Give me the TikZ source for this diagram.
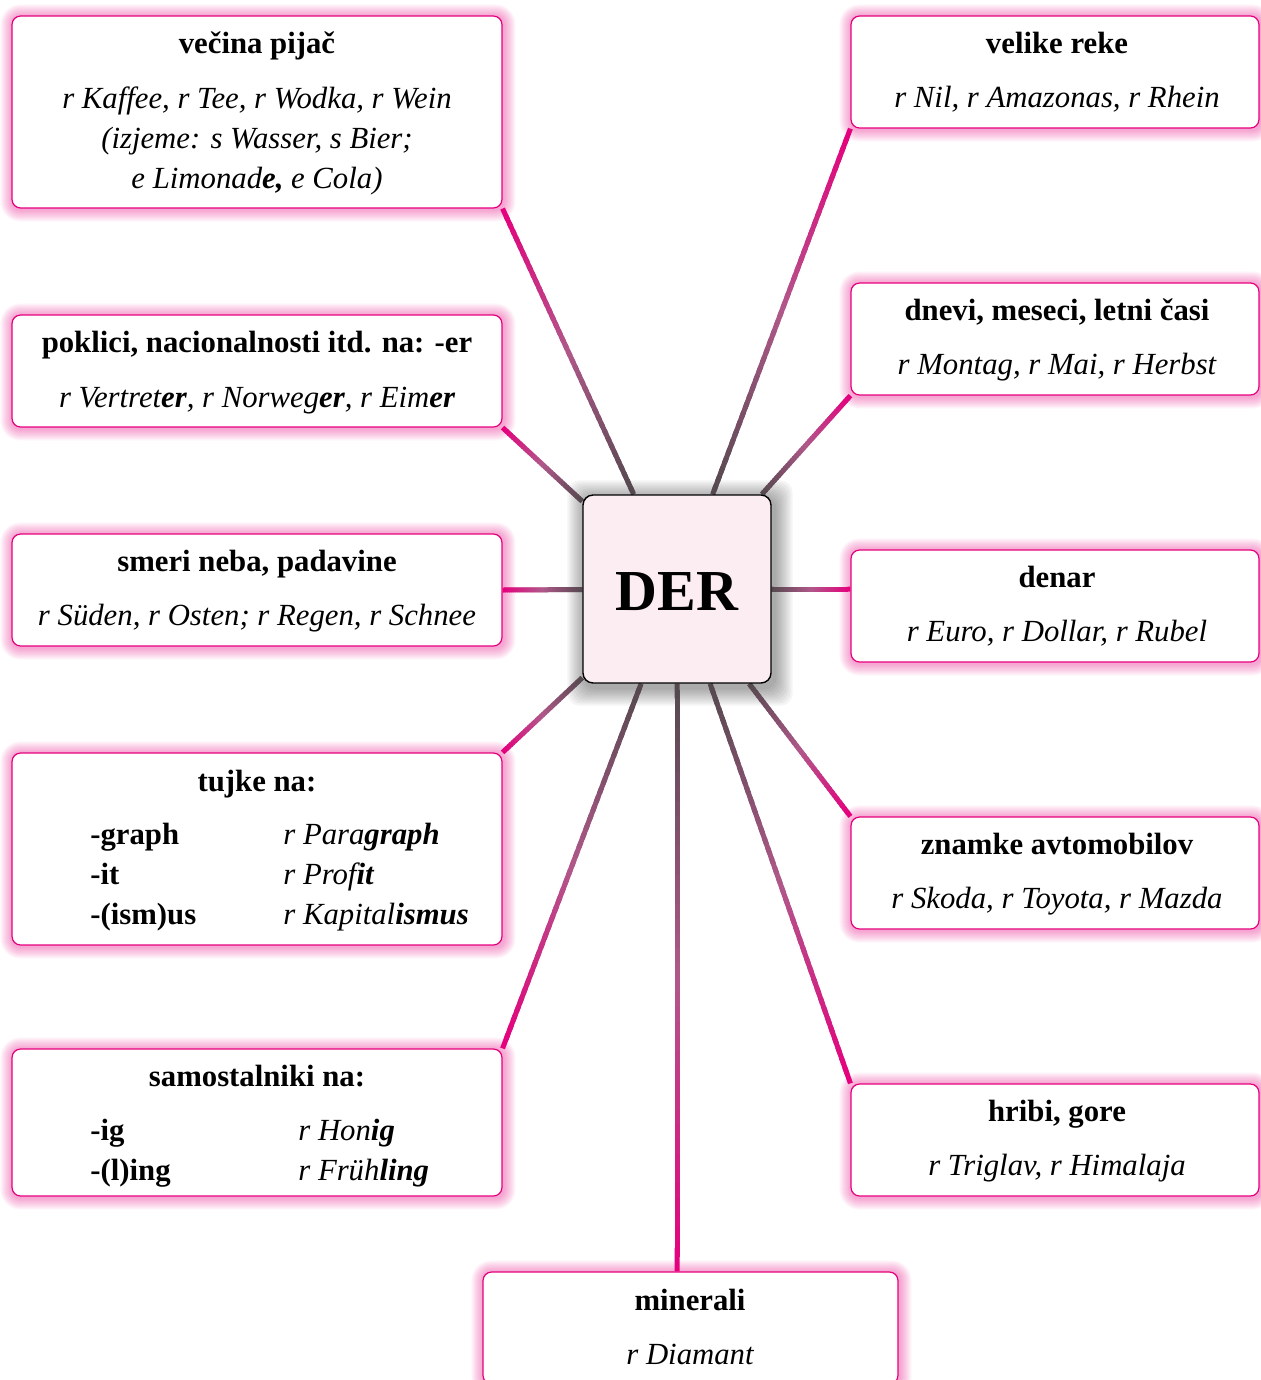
\documentclass[tikz,border=0pt]{standalone}
\usepackage{fontspec}
\setmainfont{Liberation Serif}
\usetikzlibrary{calc}
\definecolor{mag}{HTML}{E5007D}
\definecolor{mauve}{HTML}{B0588A}
\definecolor{dgray}{HTML}{55494F}
\definecolor{derfill}{HTML}{FCEDF3}
\pgfdeclarelayer{glow}\pgfdeclarelayer{conns}
\pgfsetlayers{glow,conns,main}
\newcommand\glowof[1]{%
  \begin{pgfonlayer}{glow}
  \foreach \r in {1,2,...,12}{%
    \pgfmathsetlengthmacro\rc{(8+\r)*0.5669pt}%
    \fill[mag, fill opacity=0.035, rounded corners=\rc]
      ($(#1.north west)+(-\r+1,-\r+1)$) rectangle ($(#1.south east)+(\r+1,\r+1)$);}
  \end{pgfonlayer}}
\newcommand\conn[2]{%
  \begin{pgfonlayer}{conns}
  \path (#1) -- (#2) coordinate[pos=0] (cA) coordinate[pos=1] (cB);
  \foreach \k in {0,...,39}{%
    \pgfmathsetmacro\tt{\k/39}%
    \pgfmathsetmacro\ta{\k/40}%
    \pgfmathsetmacro\tb{min(1,(\k+1.6)/40)}%
    \ifdim\tt pt<0.5pt
      \pgfmathsetmacro\p{100-200*\tt}%
      \draw[connline, draw=mag!\p!mauve] ($(cA)!\ta!(cB)$) -- ($(cA)!\tb!(cB)$);
    \else
      \pgfmathsetmacro\p{200-200*\tt}%
      \draw[connline, draw=mauve!\p!dgray] ($(cA)!\ta!(cB)$) -- ($(cA)!\tb!(cB)$);
    \fi}
  \end{pgfonlayer}}
\begin{document}
\begin{tikzpicture}[x=0.02cm,y=-0.02cm,
  box/.style={draw=mag, line width=0.7pt, fill=white, rounded corners=0.17cm, inner sep=0pt},
  lbox/.style={box, minimum width=9.8cm},
  rbox/.style={box, minimum width=8.16cm},
  hd/.style={font=\fontsize{17.5}{21}\selectfont\bfseries, anchor=base, inner sep=0pt},
  it/.style={font=\fontsize{17.5}{21}\selectfont\itshape, anchor=base, inner sep=0pt},
  sfx/.style={font=\fontsize{17.5}{21}\selectfont\bfseries, anchor=base west, inner sep=0pt},
  itl/.style={font=\fontsize{17.5}{21}\selectfont\itshape, anchor=base west, inner sep=0pt},
  connline/.style={line width=0.1cm, line cap=butt},
]
\useasboundingbox (0,0) rectangle (1261,1380);
% center
\node[draw=black, line width=0.8pt, fill=derfill, rounded corners=0.2cm,
      minimum width=3.76cm, minimum height=3.76cm, inner sep=0pt] (der) at (677,589) {};
\node[font=\fontsize{33}{36}\selectfont\bfseries, anchor=base, inner sep=0pt] (dert) at (677,610) {DER};
% left boxes
\node[lbox, minimum height=3.84cm] (b1) at (257,112) {};
\node[lbox, minimum height=2.24cm] (b2) at (257,371) {};
\node[lbox, minimum height=2.24cm] (b3) at (257,590) {};
\node[lbox, minimum height=3.84cm] (b4) at (257,849) {};
\node[lbox, minimum height=2.94cm] (b5) at (257,1122.5) {};
% right boxes
\node[rbox, minimum height=2.24cm] (r1) at (1055,72) {};
\node[rbox, minimum height=2.24cm] (r2) at (1055,339) {};
\node[rbox, minimum height=2.24cm] (r3) at (1055,606) {};
\node[rbox, minimum height=2.24cm] (r4) at (1055,873) {};
\node[rbox, minimum height=2.24cm] (r5) at (1055,1140) {};
% bottom
\node[box, minimum width=8.3cm, minimum height=2.24cm] (m) at (690.5,1328) {};

\coordinate (mtop) at (der |- m.north);
\coordinate (r3end) at (der -| r3.west);

\foreach \b in {b1,b2,b3,b4,b5,r1,r2,r3,r4,r5,m}{\glowof{\b}}
\begin{pgfonlayer}{glow}
\foreach \r in {2,4,...,18}{%
  \fill[black, fill opacity=0.045, rounded corners=0.25cm]
    ($(der.north west)+(-\r+3,-\r+4)$) rectangle ($(der.south east)+(\r+3,\r+4)$);}
\end{pgfonlayer}

\conn{b1.south east}{der}
\conn{b2.south east}{der}
\conn{b3.east}{der}
\conn{b4.north east}{der}
\conn{b5.north east}{der}
\conn{mtop}{der}
\conn{r1.south west}{der}
\conn{r2.south west}{der}
\conn{r3end}{der}
\conn{r4.north west}{der}
\conn{r5.north west}{der}

% texts
\node[hd] (t1h) at (257,53) {večina pijač};
\node[it] (t1a) at (257,108) {r Kaffee, r Tee, r Wodka, r Wein};
\node[it] (t1b) at (257,148) {(izjeme: s Wasser, s Bier;};
\node[it] (t1c) at (257,188) {e Limonad\textbf{e,} e Cola)};

\node[hd] (t2h) at (257,352) {poklici, nacionalnosti itd. na: -er};
\node[it] (t2a) at (257,407) {r Vertret\textbf{er}, r Norweg\textbf{er}, r Eim\textbf{er}};

\node[hd] (t3h) at (257,571) {smeri neba, padavine};
\node[it] (t3a) at (257,625) {r Süden, r Osten; r Regen, r Schnee};

\node[hd] (t4h) at (257,791) {tujke na:};
\node[sfx] (t4s1) at (90,844) {-graph};
\node[sfx] (t4s2) at (90,884) {-it};
\node[sfx] (t4s3) at (90,924) {-(ism)us};
\node[itl] (t4w1) at (283,844) {r Para\textbf{graph}};
\node[itl] (t4w2) at (283,884) {r Prof\textbf{it}};
\node[itl] (t4w3) at (283,924) {r Kapital\textbf{ismus}};

\node[hd] (t5h) at (257,1086) {samostalniki na:};
\node[sfx] (t5s1) at (90,1140) {-ig};
\node[sfx] (t5s2) at (90,1180) {-(l)ing};
\node[itl] (t5w1) at (298,1140) {r Hon\textbf{ig}};
\node[itl] (t5w2) at (298,1180) {r Früh\textbf{ling}};

\node[hd] (u1h) at (1057,53) {velike reke};
\node[it] (u1a) at (1057,107) {r Nil, r Amazonas, r Rhein};
\node[hd] (u2h) at (1057,320) {dnevi, meseci, letni časi};
\node[it] (u2a) at (1057,374) {r Montag, r Mai, r Herbst};
\node[hd] (u3h) at (1057,587) {denar};
\node[it] (u3a) at (1057,641) {r Euro, r Dollar, r Rubel};
\node[hd] (u4h) at (1057,854) {znamke avtomobilov};
\node[it] (u4a) at (1057,908) {r Skoda, r Toyota, r Mazda};
\node[hd] (u5h) at (1057,1121) {hribi, gore};
\node[it] (u5a) at (1057,1175) {r Triglav, r Himalaja};

\node[hd] (mh) at (690,1310) {minerali};
\node[it] (ma) at (690,1364) {r Diamant};
\end{tikzpicture}
\end{document}
